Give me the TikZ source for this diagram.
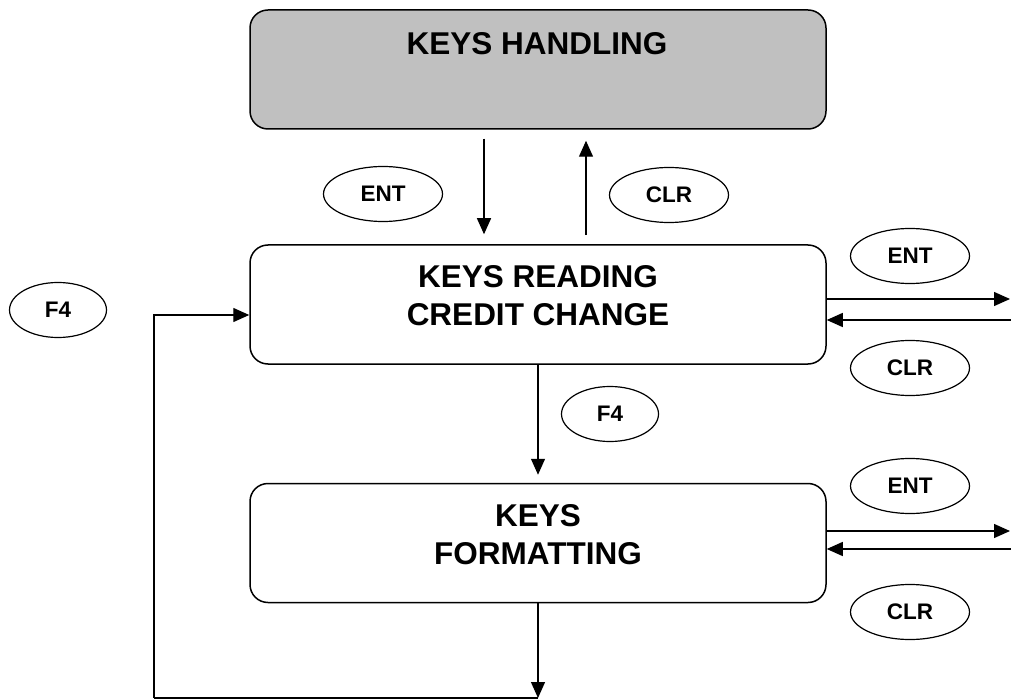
\documentclass[tikz,border=0pt]{standalone}
\usepackage{fontspec}
\setmainfont{Liberation Sans}
\usetikzlibrary{arrows.meta,shapes.geometric}
\definecolor{boxgray}{HTML}{C0C0C0}
\begin{document}
\begin{tikzpicture}[x=1pt,y=-1pt,
  box/.style={draw, line width=1.5pt, rounded corners=18pt, minimum width=576pt, minimum height=119pt, inner sep=0pt},
  boxtext/.style={inner sep=0pt, align=center, font=\fontsize{31.5}{38}\selectfont\bfseries},
  key/.style={draw, ellipse, line width=1.2pt, minimum width=119pt, minimum height=55pt, inner sep=0pt, font=\fontsize{22.5}{27}\selectfont\bfseries},
  fkey/.style={key, minimum width=97pt},
  arr/.style={line width=1.3pt, -{Triangle[length=16pt,width=14pt]}},
  plain/.style={line width=1.3pt}]
\useasboundingbox (0,0) rectangle (1011,700);

% boxes
\node[box, fill=boxgray] (hdl) at (538,69.5) {};
\node[boxtext, anchor=base] (hdlt) at (537,55) {KEYS HANDLING};
\node[box] (rd) at (538,304.5) {};
\node[boxtext] (rdt) at (538,296) {KEYS READING\\CREDIT CHANGE};
\node[box] (fmt) at (538,543) {};
\node[boxtext] (fmtt) at (538,535) {KEYS\\FORMATTING};

% key ellipses
\node[key] (entA) at (383,194) {ENT};
\node[key] (clrA) at (669,195) {CLR};
\node[key] (entB) at (910,256) {ENT};
\node[key] (clrB) at (910,368) {CLR};
\node[key] (entC) at (910,486) {ENT};
\node[key] (clrC) at (910,612) {CLR};
\node[fkey] (f4A) at (58,310) {F4};
\node[fkey] (f4B) at (610,414) {F4};

% free ends
\coordinate (rB1) at (1010,299);
\coordinate (rB2) at (1011,320);
\coordinate (rC1) at (1010,531);
\coordinate (rC2) at (1011,549);
\coordinate (jn) at (538,698);
\coordinate (lc) at (154,698);

% connectors
\draw[arr, shorten <=9pt, shorten >=10pt] ([xshift=-54pt]hdl.south) -- ([xshift=-54pt]hdl.south |- rd.north);
\draw[arr, shorten <=9pt, shorten >=11pt] ([xshift=48pt]hdl.south |- rd.north) -- ([xshift=48pt]hdl.south);
\draw[arr, shorten >=8pt] (rd.south) -- (fmt.north);
\draw[arr] (fmt.south) -- (jn);
\draw[plain] (jn) -- (lc);
\draw[arr] (lc) |- ([yshift=-10.5pt]rd.west);

\draw[arr] ([yshift=5.5pt]rd.east) -- (rd.east |- rB1) -- (rB1);
\draw[arr] (rB2) -- ([yshift=-15.5pt]rd.east);
\draw[arr] ([yshift=12pt]fmt.east) -- (rC1);
\draw[arr] (rC2) -- ([yshift=-6pt]fmt.east);
\end{tikzpicture}
\end{document}
